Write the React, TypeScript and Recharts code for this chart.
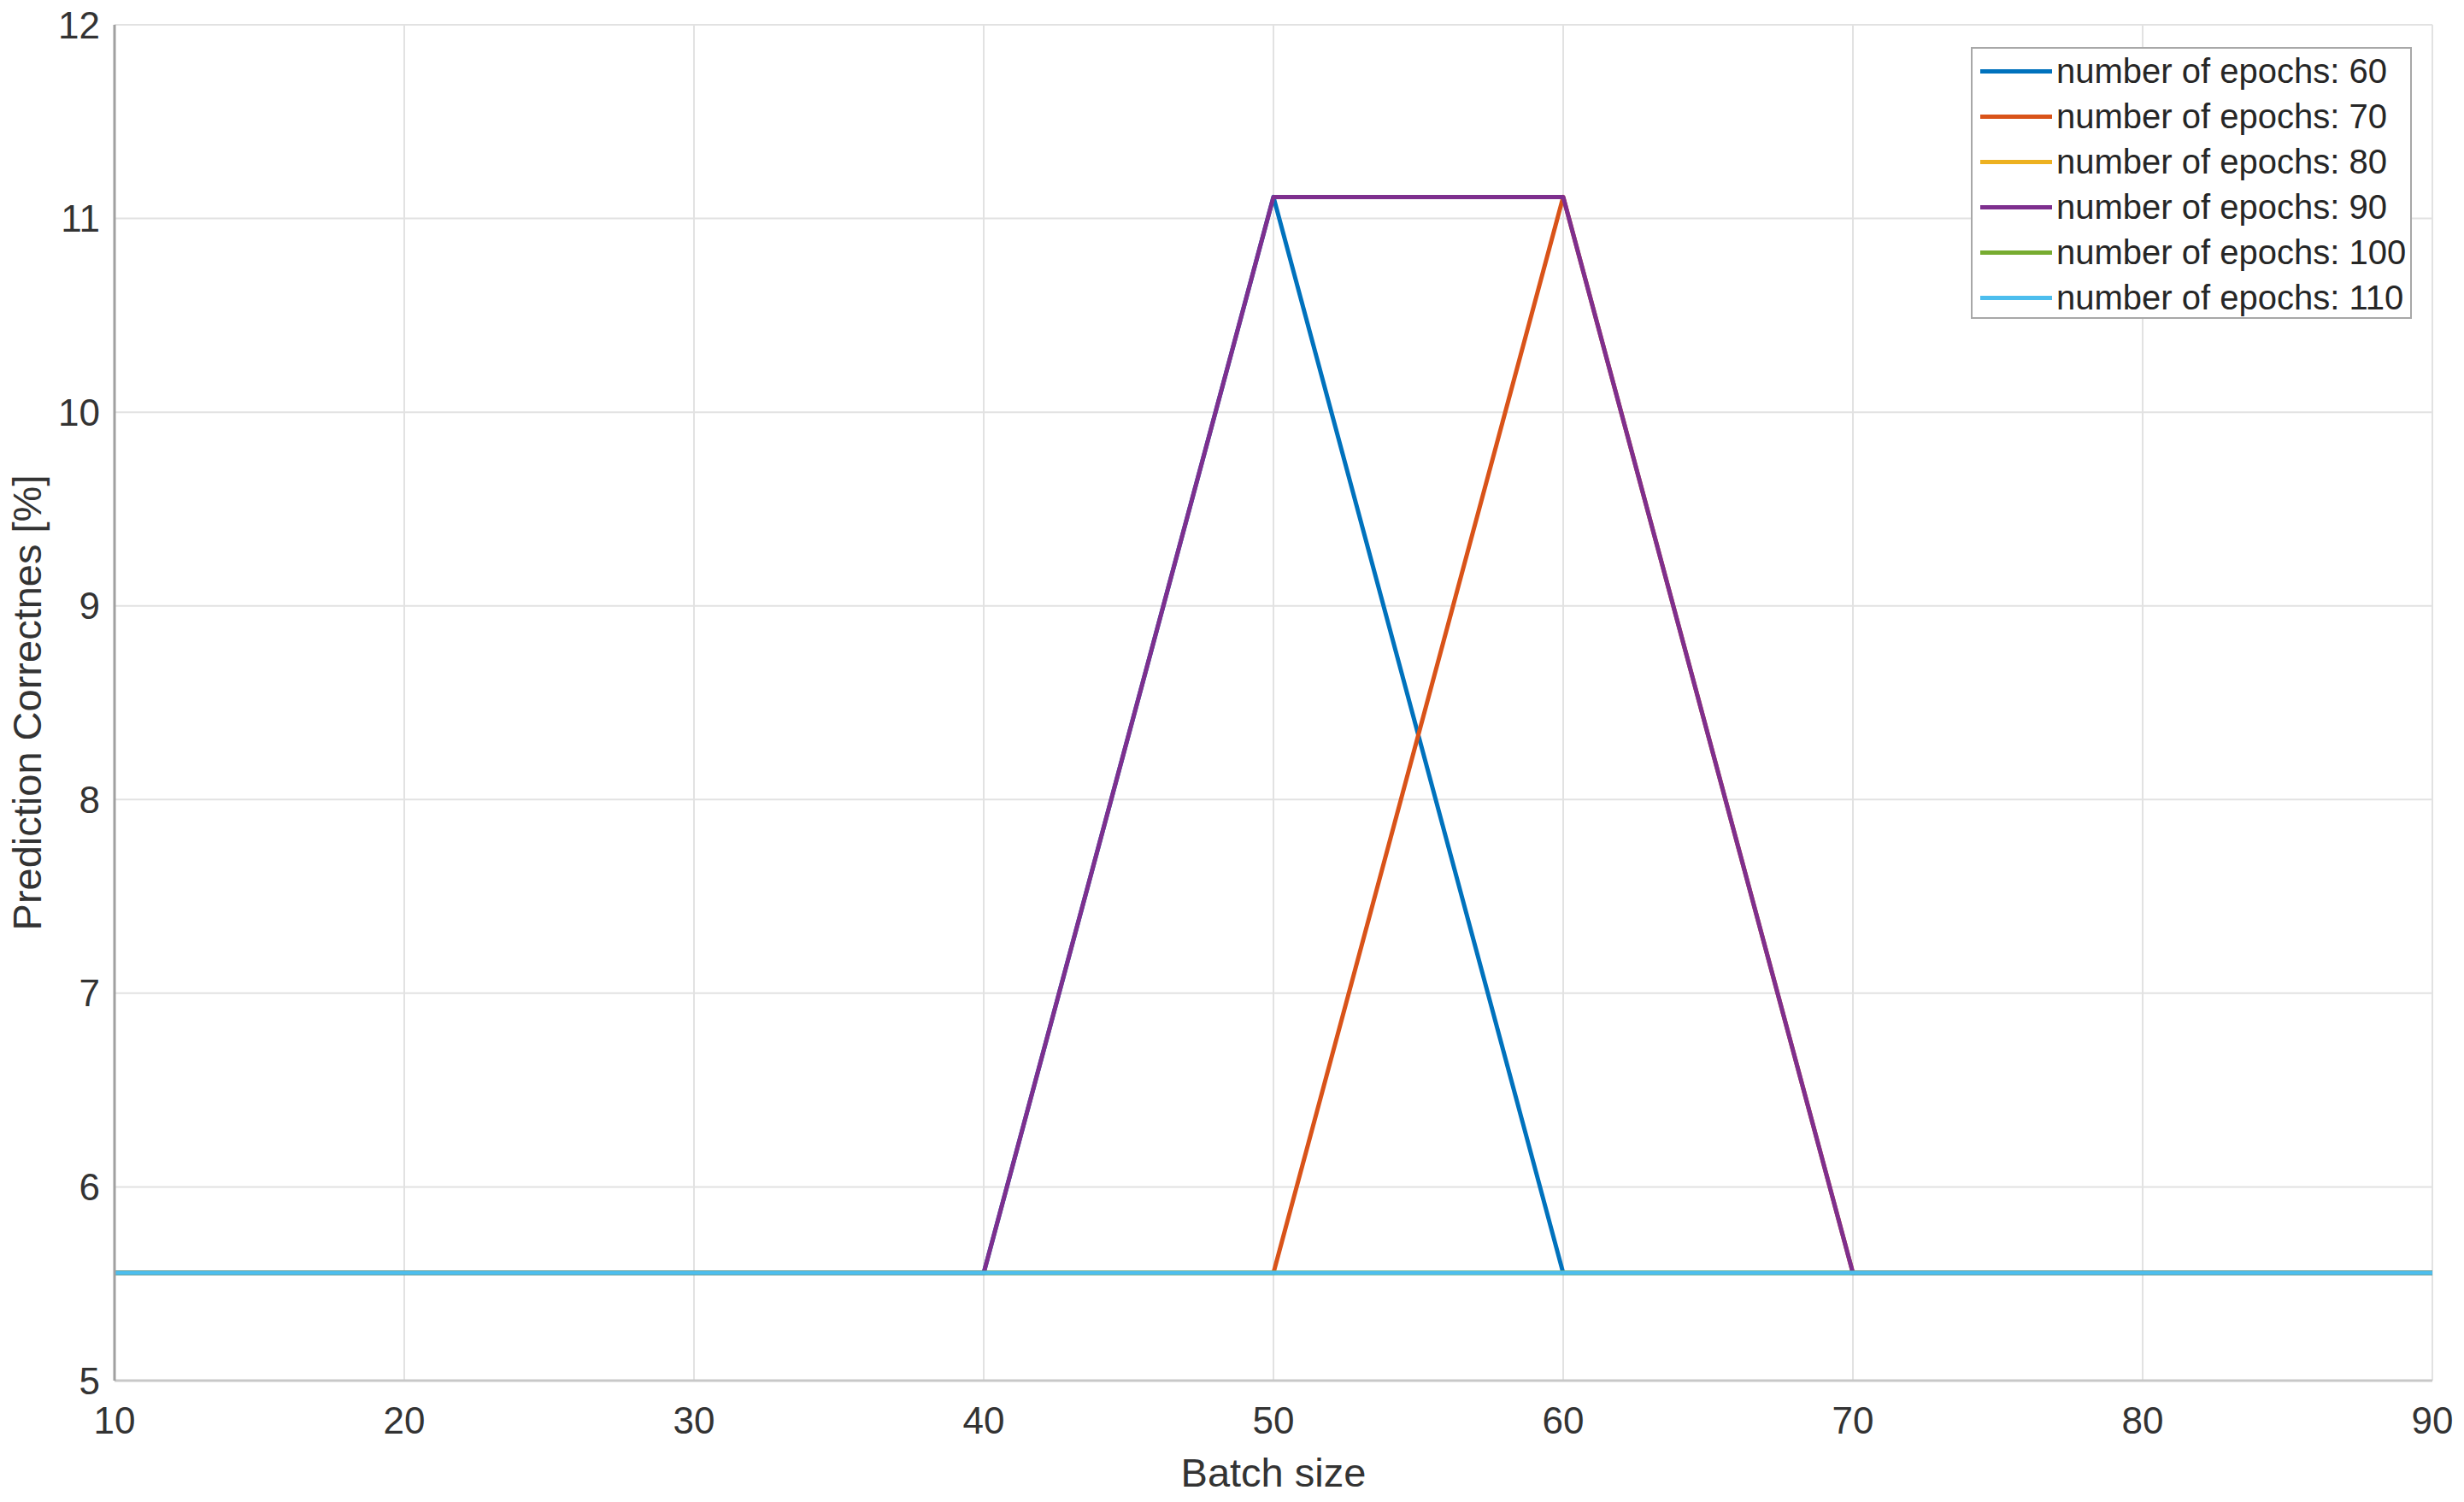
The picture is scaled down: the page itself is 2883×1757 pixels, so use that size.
import { CartesianGrid, Legend, Line, LineChart, XAxis, YAxis } from 'recharts'

const batchSizes = [10, 20, 30, 40, 50, 60, 70, 80, 90]
const lo = 5.5556
const hi = 11.1111

const epochs60 = [lo, lo, lo, lo, hi, lo, lo, lo, lo]
const epochs70 = [lo, lo, lo, lo, lo, hi, lo, lo, lo]
const epochs80 = [lo, lo, lo, lo, lo, lo, lo, lo, lo]
const epochs90 = [lo, lo, lo, lo, hi, hi, lo, lo, lo]
const epochs100 = [lo, lo, lo, lo, lo, lo, lo, lo, lo]
const epochs110 = [lo, lo, lo, lo, lo, lo, lo, lo, lo]

const seriesNames = [
  'number of epochs: 60',
  'number of epochs: 70',
  'number of epochs: 80',
  'number of epochs: 90',
  'number of epochs: 100',
  'number of epochs: 110',
]
const seriesValues = [epochs60, epochs70, epochs80, epochs90, epochs100, epochs110]
const colors = ['#0072BD', '#D95319', '#EDB120', '#7E2F8E', '#77AC30', '#4DBEEE']

const xTicks = [10, 20, 30, 40, 50, 60, 70, 80, 90]
const yTicks = [5, 6, 7, 8, 9, 10, 11, 12]

const data = batchSizes.map((b, i) => {
  const row: Record<string, number> = { batch: b }
  seriesNames.forEach((s, k) => { row[s] = seriesValues[k][i] })
  return row
})

const FONT = '"Liberation Sans", Arial, Helvetica, sans-serif'
const TEXT = '#333333'

function LegendBox() {
  return (
    <div style={{
      width: 512, height: 314, border: '2px solid #a8a8a8', background: '#fff',
      boxSizing: 'content-box', fontFamily: FONT, fontSize: 40, color: '#262626',
      paddingTop: 0,
    }}>
      {seriesNames.map((s, i) => (
        <div key={s} style={{ display: 'flex', alignItems: 'center', height: 53 }}>
          <div style={{ width: 84, height: 5, background: colors[i], marginLeft: 9, marginRight: 5 }} />
          <span style={{ lineHeight: '53px', whiteSpace: 'nowrap' }}>{s}</span>
        </div>
      ))}
    </div>
  )
}

export default function App() {
  return (
    <div style={{ position: 'absolute', left: 0, top: 0, background: '#fff' }}>
      <LineChart width={2883} height={1757} data={data}
        margin={{ top: 29, right: 37, left: 10, bottom: 12 }}>
        <CartesianGrid stroke="#e2e2e2" strokeWidth={2} />
        <XAxis dataKey="batch" type="number" domain={[10, 90]} ticks={xTicks}
          height={130} tickLine={false} tickMargin={25}
          axisLine={{ stroke: '#c8c8c8', strokeWidth: 3 }}
          tick={{ fontSize: 44, fill: TEXT, fontFamily: FONT }}
          label={{ value: 'Batch size', position: 'insideBottom', offset: 6,
            style: { fontSize: 47, fill: TEXT, fontFamily: FONT } }} />
        <YAxis type="number" domain={[5, 12]} ticks={yTicks} width={124}
          tickLine={false} tickMargin={11}
          axisLine={{ stroke: '#a0a0a0', strokeWidth: 3 }}
          tick={{ fontSize: 44, fill: TEXT, fontFamily: FONT }}
          label={{ value: 'Prediction Correctnes [%]', angle: -90, position: 'insideLeft', offset: 21,
            style: { fontSize: 47, fill: TEXT, fontFamily: FONT, textAnchor: 'middle' } }} />
        <Legend layout="horizontal" verticalAlign="middle" align="center"
          wrapperStyle={{ position: 'absolute', left: 2306, top: 55, width: 516, height: 318 }}
          content={() => <LegendBox />} />
        {seriesNames.map((s, i) => (
          <Line key={s} type="linear" dataKey={s} stroke={colors[i]} strokeWidth={5}
            dot={false} activeDot={false} isAnimationActive={false}
            strokeLinejoin="round" />
        ))}
      </LineChart>
    </div>
  )
}
